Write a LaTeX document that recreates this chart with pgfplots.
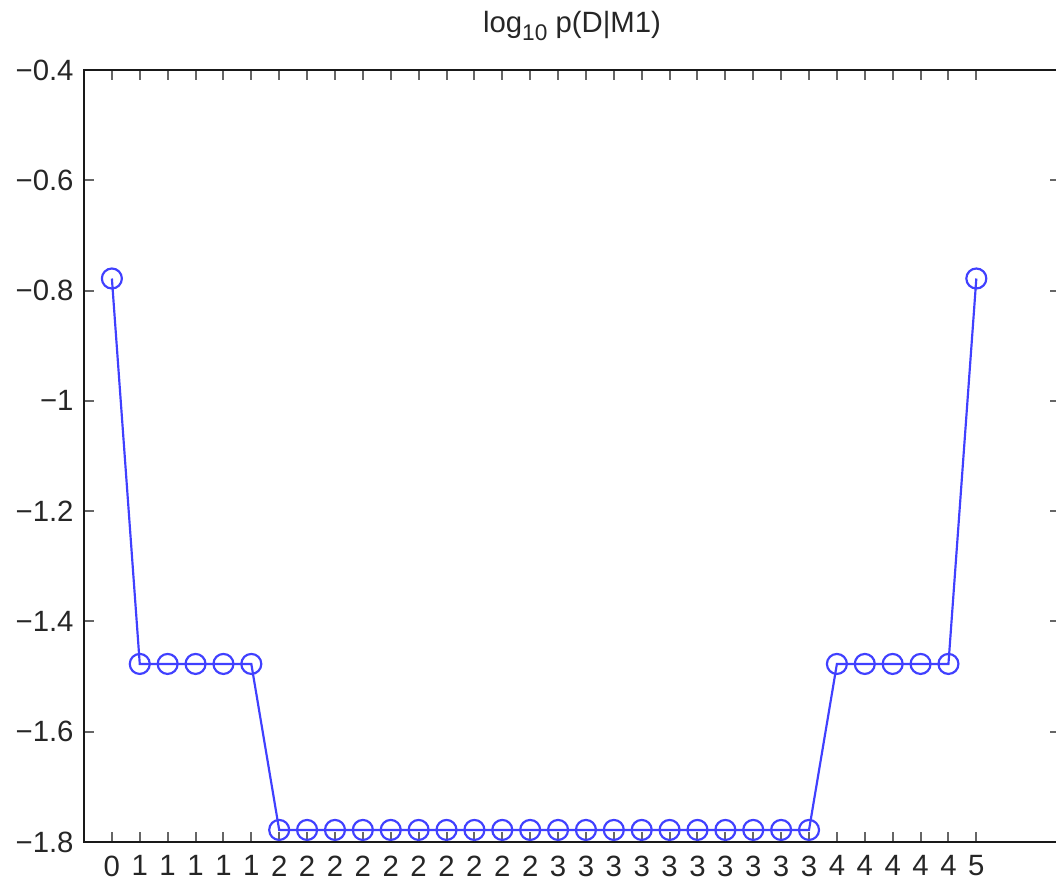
\documentclass[border=0pt]{standalone}
\usepackage{fontspec}
\setmainfont{Liberation Sans}
\usepackage{pgfplots}
\pgfplotsset{compat=1.18}
\definecolor{mblue}{rgb}{0.25,0.25,1}
\begin{document}
\fontsize{8.8}{11}\selectfont
\begin{tikzpicture}
\begin{axis}[
  scale only axis,
  width=292.8pt, height=231.6pt,
  xmin=0, xmax=35, ymin=-1.8, ymax=-0.4,
  xtick={1,...,32},
  xticklabels={0,1,1,1,1,1,2,2,2,2,2,2,2,2,2,2,3,3,3,3,3,3,3,3,3,3,4,4,4,4,4,5},
  ytick={-1.8,-1.6,-1.4,-1.2,-1,-0.8,-0.6,-0.4},
  yticklabels={−1.8,−1.6,−1.4,−1.2,−1,−0.8,−0.6,−0.4},
  tick align=inside,
  major tick length=3pt,
  tick style={line width=0.6pt, color=black!60},
  axis line style={line width=0.8pt, color=black!90},
  xticklabel style={yshift=-1pt},
  ticklabel style={font=\fontsize{8.8}{11}\selectfont, color=black!85},
  title={log\raisebox{-0.55ex}{\fontsize{6.8}{8}\selectfont 10} p(D|M1)},
  title style={at={(0.5,1)}, anchor=base, yshift=5.3pt, font=\fontsize{8.8}{11}\selectfont, color=black!85},
]
\addplot[color=mblue, line width=0.65pt, mark=o, mark size=3pt, mark options={solid, line width=0.65pt, fill=none}] coordinates {
(1,-0.77815)
(2,-1.47712)(3,-1.47712)(4,-1.47712)(5,-1.47712)(6,-1.47712)
(7,-1.77815)(8,-1.77815)(9,-1.77815)(10,-1.77815)(11,-1.77815)
(12,-1.77815)(13,-1.77815)(14,-1.77815)(15,-1.77815)(16,-1.77815)
(17,-1.77815)(18,-1.77815)(19,-1.77815)(20,-1.77815)(21,-1.77815)
(22,-1.77815)(23,-1.77815)(24,-1.77815)(25,-1.77815)(26,-1.77815)
(27,-1.47712)(28,-1.47712)(29,-1.47712)(30,-1.47712)(31,-1.47712)
(32,-0.77815)
};
\coordinate (sw) at (rel axis cs:0,0);
\end{axis}
\pgfresetboundingbox
\path[use as bounding box] (sw) ++(-25.2pt,-12pt) rectangle ++(316.8pt,264.6pt);
\end{tikzpicture}
\end{document}
